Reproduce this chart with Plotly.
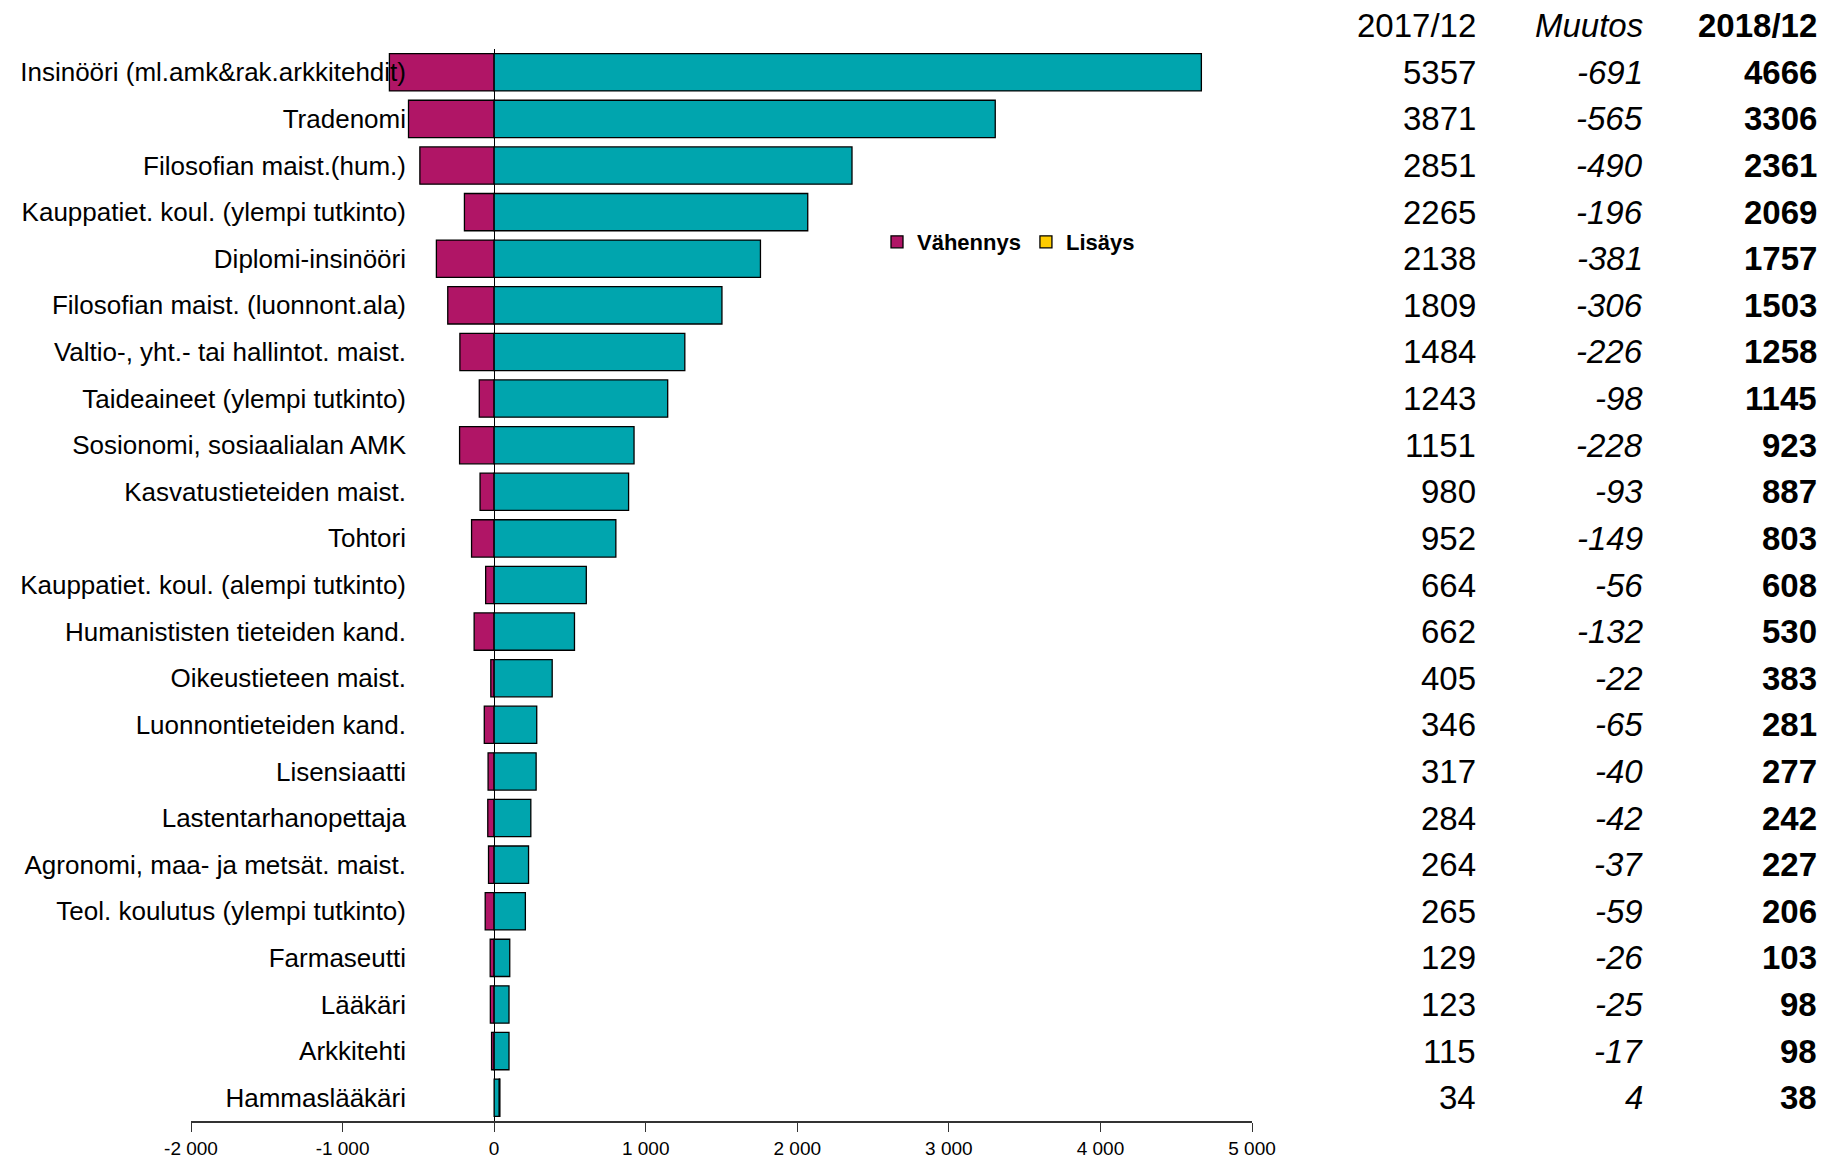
import plotly.graph_objects as go

categories = [
    "Insinööri (ml.amk&rak.arkkitehdit)", "Tradenomi", "Filosofian maist.(hum.)",
    "Kauppatiet. koul. (ylempi tutkinto)", "Diplomi-insinööri",
    "Filosofian maist. (luonnont.ala)", "Valtio-, yht.- tai hallintot. maist.",
    "Taideaineet (ylempi tutkinto)", "Sosionomi, sosiaalialan AMK",
    "Kasvatustieteiden maist.", "Tohtori", "Kauppatiet. koul. (alempi tutkinto)",
    "Humanististen tieteiden kand.", "Oikeustieteen maist.", "Luonnontieteiden kand.",
    "Lisensiaatti", "Lastentarhanopettaja", "Agronomi, maa- ja metsät. maist.",
    "Teol. koulutus (ylempi tutkinto)", "Farmaseutti", "Lääkäri", "Arkkitehti",
    "Hammaslääkäri",
]
v2017 = [5357, 3871, 2851, 2265, 2138, 1809, 1484, 1243, 1151, 980, 952, 664, 662,
         405, 346, 317, 284, 264, 265, 129, 123, 115, 34]
muutos = [-691, -565, -490, -196, -381, -306, -226, -98, -228, -93, -149, -56, -132,
          -22, -65, -40, -42, -37, -59, -26, -25, -17, 4]
v2018 = [4666, 3306, 2361, 2069, 1757, 1503, 1258, 1145, 923, 887, 803, 608, 530,
         383, 281, 277, 242, 227, 206, 103, 98, 98, 38]
x_tickvals = [-2000, -1000, 0, 1000, 2000, 3000, 4000, 5000]
x_ticktext = ["-2 000", "-1 000", "0", "1 000", "2 000", "3 000", "4 000", "5 000"]
headers = ["2017/12", "Muutos", "2018/12"]

W, H = 1836, 1162
MAGENTA = "#B01566"
TEAL = "#00A5AE"
YELLOW = "#FFCC00"
ARIAL = "Liberation Sans, Arial, sans-serif"

vahennys = [m if m < 0 else None for m in muutos]
lisays = [m if m > 0 else None for m in muutos]
base = [min(a, b) for a, b in zip(v2017, v2018)]

line = dict(color="black", width=1.3)
fig = go.Figure()
fig.add_trace(go.Bar(y=categories, x=vahennys, orientation="h", name="<b>Vähennys</b>",
                     marker=dict(color=MAGENTA, line=line)))
fig.add_trace(go.Bar(y=categories, x=base, orientation="h", name="base", showlegend=False,
                     marker=dict(color=TEAL, line=line)))
fig.add_trace(go.Bar(y=categories, x=lisays, orientation="h", name="<b>Lisäys</b>",
                     marker=dict(color=YELLOW, line=line)))

px = lambda p: p / W
py = lambda p: 1 - p / H
n = len(categories)

fig.update_layout(
    width=W, height=H,
    margin=dict(l=0, r=0, t=0, b=0, autoexpand=False),
    paper_bgcolor="white", plot_bgcolor="white",
    barmode="relative", bargap=0.2,
    font=dict(family=ARIAL, color="black"),
    xaxis=dict(domain=[px(191), px(1252)], range=[-2000, 5000],
               tickvals=x_tickvals, ticktext=x_ticktext,
               tickfont=dict(family=ARIAL, size=19, color="black"),
               ticks="outside", ticklen=9, tickcolor="#333", tickwidth=1,
               showline=True, linecolor="#333", linewidth=1.5,
               showgrid=False, zeroline=True, zerolinecolor="black", zerolinewidth=1),
    yaxis=dict(domain=[py(1121), py(49)], categoryorder="array", categoryarray=categories,
               range=[n - 0.5, -0.5], anchor="free", position=px(406),
               showline=False, ticks="", showgrid=False, zeroline=False,
               tickfont=dict(family=ARIAL, size=26, color="black")),
    legend=dict(orientation="h", x=px(877), y=py(242), xanchor="left", yanchor="middle",
                font=dict(family=ARIAL, size=22, color="black"),
                bgcolor="rgba(0,0,0,0)", itemwidth=30, traceorder="normal"),
)

cols_x = [px(1478), px(1645), px(1819)]
styles = [("", ""), ("<i>", "</i>"), ("<b>", "</b>")]
for j, h in enumerate(headers):
    o, c = styles[j]
    fig.add_annotation(x=cols_x[j], y=py(26), xref="paper", yref="paper", text=f"{o}{h}{c}",
                       xanchor="right", yanchor="middle", showarrow=False,
                       font=dict(family=ARIAL, size=33, color="black"))
for j, col in enumerate([v2017, muutos, v2018]):
    o, c = styles[j]
    for i, v in enumerate(col):
        fig.add_annotation(x=cols_x[j], y=i, xref="paper", yref="y", text=f"{o}{v}{c}",
                           xanchor="right", yanchor="middle", showarrow=False,
                           font=dict(family=ARIAL, size=33, color="black"))

fig.write_html("out.html", config={"displayModeBar": False},
               post_script="document.body.style.margin='0';")
